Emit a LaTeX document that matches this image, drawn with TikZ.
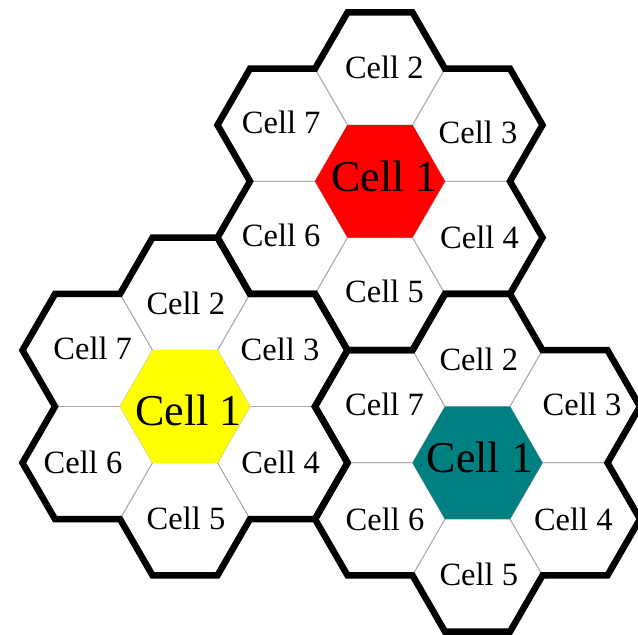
\documentclass[tikz,border=0pt]{standalone}
\usepackage{fontspec}
\setmainfont{Liberation Serif}
\usetikzlibrary{calc}
\definecolor{cellred}{RGB}{255,0,0}
\definecolor{cellyellow}{RGB}{255,255,0}
\definecolor{cellteal}{RGB}{0,128,128}
\definecolor{gridgray}{RGB}{170,170,170}
\begin{document}
\begin{tikzpicture}[x=1pt,y=-1pt,
  gridline/.style={draw=gridgray,line width=0.8pt},
  outline/.style={draw=black,line width=6.5pt,line join=miter},
  small/.style={inner sep=0pt,font=\fontsize{32.5}{36}\selectfont},
  big/.style={inner sep=0pt,font=\fontsize{44}{48}\selectfont}]
\useasboundingbox[fill=white] (0,0) rectangle (638,635);
\def\R{65}
\def\H{112.58}
\coordinate (R) at (380,181.3);
\coordinate (Y) at (185,406.5);
\coordinate (T) at (477.5,462.8);
% thin cell grid
\foreach \cl in {R,Y,T}{
  \foreach \n/\a in {2/270,3/330,4/30,5/90,6/150,7/210}{
    \coordinate (\cl\n) at ($(\cl)+(\a:\H)$);
    \draw[gridline,shift={(\cl\n)}] (0:\R)--(60:\R)--(120:\R)--(180:\R)--(240:\R)--(300:\R)--cycle;
  }
}
% coloured centre cells
\fill[cellred,shift={(R)}] (0:\R)--(60:\R)--(120:\R)--(180:\R)--(240:\R)--(300:\R)--cycle;
\fill[cellyellow,shift={(Y)}] (0:\R)--(60:\R)--(120:\R)--(180:\R)--(240:\R)--(300:\R)--cycle;
\fill[cellteal,shift={(T)}] (0:\R)--(60:\R)--(120:\R)--(180:\R)--(240:\R)--(300:\R)--cycle;
% cluster outlines
\foreach \cl in {R,Y,T}{
  \foreach \k in {0,...,5}{
    \pgfmathsetmacro\ph{30+60*\k}
    \pgfmathsetmacro\pa{\ph-90}
    \pgfmathsetmacro\pb{\ph-30}
    \pgfmathsetmacro\pc{\ph+30}
    \coordinate (\cl o\k a) at ($(\cl)+(\ph:\H)+(\pa:\R)$);
    \coordinate (\cl o\k b) at ($(\cl)+(\ph:\H)+(\pb:\R)$);
    \coordinate (\cl o\k c) at ($(\cl)+(\ph:\H)+(\pc:\R)$);
  }
  \draw[outline] (\cl o0a) -- (\cl o0b) -- (\cl o0c)
    \foreach \k in {1,...,5}{ -- (\cl o\k a) -- (\cl o\k b) -- (\cl o\k c)} -- cycle;
}
% labels: red cluster
\node[big]   (Rl1) at (384.7,176)   {Cell 1};
\node[small] (Rl2) at (384.3,67)    {Cell 2};
\node[small] (Rl3) at (478,132.5)   {Cell 3};
\node[small] (Rl4) at (479.5,237.5) {Cell 4};
\node[small] (Rl5) at (384.5,291.7) {Cell 5};
\node[small] (Rl6) at (281.2,235.8) {Cell 6};
\node[small] (Rl7) at (281.2,122.5) {Cell 7};
% labels: yellow cluster
\node[big]   (Yl1) at (188.8,410)   {Cell 1};
\node[small] (Yl2) at (185.8,303)   {Cell 2};
\node[small] (Yl3) at (280,349)     {Cell 3};
\node[small] (Yl4) at (280.7,462.5) {Cell 4};
\node[small] (Yl5) at (186,518)     {Cell 5};
\node[small] (Yl6) at (83,462.5)    {Cell 6};
\node[small] (Yl7) at (92.7,348.8)  {Cell 7};
% labels: teal cluster
\node[big]   (Tl1) at (480,457.5)   {Cell 1};
\node[small] (Tl2) at (478.8,359)   {Cell 2};
\node[small] (Tl3) at (582,404)     {Cell 3};
\node[small] (Tl4) at (573.3,519)   {Cell 4};
\node[small] (Tl5) at (478.8,574)   {Cell 5};
\node[small] (Tl6) at (385,519)     {Cell 6};
\node[small] (Tl7) at (384.5,404)   {Cell 7};
\end{tikzpicture}
\end{document}
